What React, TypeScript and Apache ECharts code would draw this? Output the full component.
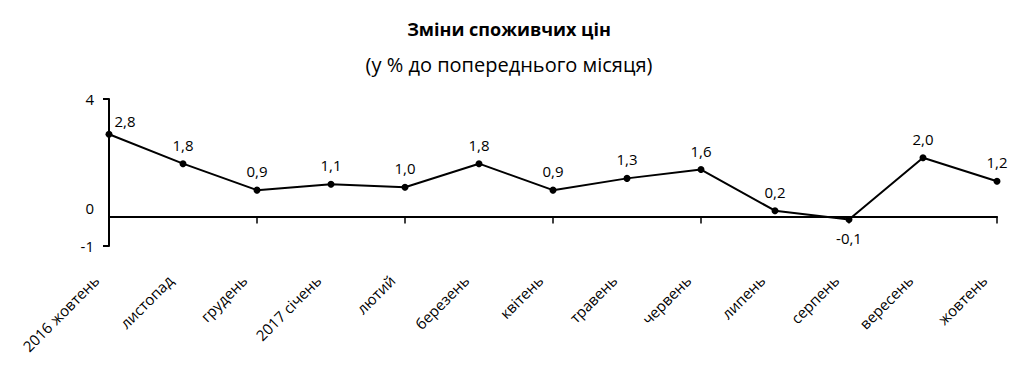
import React, { useEffect, useRef } from "react";
import * as echarts from "echarts";

const categories = [
  "2016 жовтень", "листопад", "грудень", "2017 січень", "лютий", "березень",
  "квітень", "травень", "червень", "липень", "серпень", "вересень", "жовтень",
];
const values = [2.8, 1.8, 0.9, 1.1, 1.0, 1.8, 0.9, 1.3, 1.6, 0.2, -0.1, 2.0, 1.2];
const yTickLabels = [-1, 0, 4];
const yTickMarks = [-1, 4];
const titleText = "Зміни споживчих цін";
const subtitleText = "(у % до попереднього місяця)";

const FONT = "'Open Sans', 'Noto Sans', sans-serif";

export default function App() {
  const ref = useRef<HTMLDivElement>(null);
  useEffect(() => {
    if (!ref.current) return;
    const chart = echarts.init(ref.current, null, { renderer: "svg" });
    const data = values.map((v, i) => {
      const item: any = { value: v };
      if (i === 0) {
        item.label = { position: "top", offset: [16, 6] };
      } else if (v < 0) {
        item.label = { position: "bottom", distance: 7 };
      }
      return item;
    });
    chart.setOption({
      animation: false,
      backgroundColor: "#ffffff",
      title: [
        {
          text: titleText,
          left: 504,
          textAlign: "center",
          top: 15,
          textStyle: { fontFamily: FONT, fontSize: 18, fontWeight: "bold", color: "#000" },
        },
        {
          text: subtitleText,
          left: 504,
          textAlign: "center",
          top: 49,
          textStyle: { fontFamily: FONT, fontSize: 20, fontWeight: "normal", color: "#000" },
        },
      ],
      grid: { left: 109, right: 30, top: 99, bottom: 129, containLabel: false },
      xAxis: [
        {
          type: "category",
          data: categories,
          boundaryGap: false,
          axisLine: { onZero: true, lineStyle: { color: "#000", width: 2 } },
          axisTick: { show: true, alignWithLabel: true, length: 7, lineStyle: { color: "#000", width: 1.5 } },
          axisLabel: { show: false },
          splitLine: { show: false },
        },
        {
          type: "category",
          data: categories,
          boundaryGap: false,
          position: "bottom",
          axisLine: { show: false, onZero: false },
          axisTick: { show: false },
          axisLabel: {
            show: true,
            rotate: 45,
            interval: 0,
            margin: 19,
            padding: [0, 18, 0, 0],
            fontFamily: FONT,
            fontSize: 15,
            color: "#000",
          },
          splitLine: { show: false },
        },
      ],
      yAxis: {
        type: "value",
        min: -1,
        max: 4,
        interval: 1,
        axisLine: { show: true, lineStyle: { color: "#000", width: 2 } },
        axisTick: { show: true, length: 6, customValues: yTickMarks, lineStyle: { color: "#000", width: 2 } },
        axisLabel: {
          customValues: yTickLabels,
          margin: 15,
          fontFamily: FONT,
          fontSize: 15,
          color: "#000",
          formatter: (v: number) => (v === 0 ? "{z|0}" : String(v)),
          rich: {
            z: { fontFamily: FONT, fontSize: 15, color: "#000", padding: [0, 0, 18, 0] },
          },
        },
        splitLine: { show: false },
      },
      series: [
        {
          type: "line",
          xAxisIndex: 0,
          data,
          symbol: "circle",
          symbolSize: 7,
          itemStyle: { color: "#000" },
          lineStyle: { color: "#000", width: 2 },
          label: {
            show: true,
            position: "top",
            distance: 8,
            fontFamily: FONT,
            fontSize: 15,
            color: "#000",
            formatter: (p: any) => Number(p.value).toFixed(1).replace(".", ","),
          },
        },
      ],
    });
    return () => chart.dispose();
  }, []);
  return (
    <div
      ref={ref}
      style={{ position: "fixed", left: 0, top: 0, width: 1027, height: 375 }}
    />
  );
}
